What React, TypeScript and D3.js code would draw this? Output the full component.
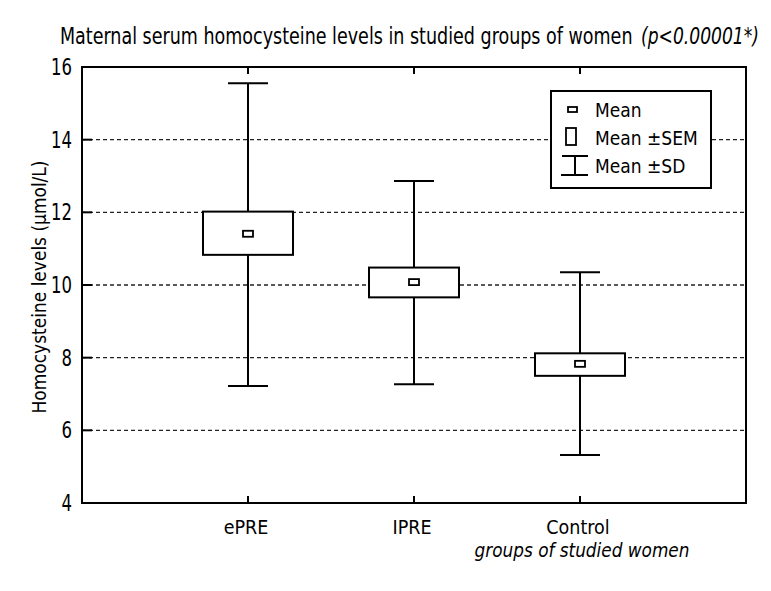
import React, { useEffect, useRef } from 'react';
import * as d3 from 'd3';

const groups = ['ePRE', 'IPRE', 'Control'];
const means = [11.41, 10.08, 7.83];
const semLow = [10.83, 9.66, 7.5];
const semHigh = [12.02, 10.48, 8.12];
const sdLow = [7.22, 7.27, 5.32];
const sdHigh = [15.55, 12.86, 10.35];
const yTicks = [4, 6, 8, 10, 12, 14, 16];
const legendItems = ['Mean', 'Mean \u00b1SEM', 'Mean \u00b1SD'];

const FONT = '"DejaVu Sans Condensed", "Liberation Sans Narrow", "DejaVu Sans", sans-serif';

// put a text at (x, y) and squeeze it horizontally to a given width
function squeezed(parent: any, str: string, x: number, y: number, width: number,
                  size: number, anchor = 'start', rotate = 0, italic = false) {
    const t = parent.append('text')
        .attr('text-anchor', anchor)
        .style('font-family', FONT)
        .style('font-size', size + 'px')
        .style('font-style', italic ? 'italic' : 'normal')
        .text(str);
    const len = (t.node() as SVGTextElement).getComputedTextLength() || width;
    t.attr('transform', `translate(${x},${y}) rotate(${rotate}) scale(${width / len},1)`);
    return t;
}

export default function App() {
    const ref = useRef<SVGSVGElement>(null);

    useEffect(() => {
        const svg = d3.select(ref.current);
        svg.selectAll('*').remove();

        const left = 82, right = 746, top = 67, bottom = 503;

        const x = d3.scaleLinear().domain([0, 4]).range([left, right]);
        const y = d3.scaleLinear().domain([4, 16]).range([bottom, top]);

        const g = svg.append('g');

        // title
        squeezed(g, 'Maternal serum homocysteine levels in studied groups of women', 60, 44, 573, 23);
        squeezed(g, '(p<0.00001*)', 641, 44, 118, 23, 'start', 0, true);

        // grid lines
        g.selectAll('.grid')
            .data(yTicks.filter(t => t > 4 && t < 16))
            .enter()
            .append('line')
            .attr('x1', left)
            .attr('x2', right)
            .attr('y1', d => y(d))
            .attr('y2', d => y(d))
            .attr('stroke', '#222')
            .attr('stroke-width', 1.3)
            .attr('stroke-dasharray', '4,3');

        // inner tick marks on y
        g.selectAll('.ytick')
            .data(yTicks)
            .enter()
            .append('line')
            .attr('x1', left)
            .attr('x2', left + 10)
            .attr('y1', d => y(d))
            .attr('y2', d => y(d))
            .attr('stroke', '#000')
            .attr('stroke-width', 2);

        // y tick labels
        yTicks.forEach(t => {
            squeezed(g, String(t), left - 10, y(t) + 8, String(t).length * 10.5, 23, 'end');
        });

        // x ticks top and bottom
        [1, 2, 3].forEach(i => {
            g.append('line')
                .attr('x1', x(i)).attr('x2', x(i))
                .attr('y1', top).attr('y2', top + 7)
                .attr('stroke', '#000').attr('stroke-width', 2);
            g.append('line')
                .attr('x1', x(i)).attr('x2', x(i))
                .attr('y1', bottom).attr('y2', bottom - 7)
                .attr('stroke', '#000').attr('stroke-width', 2);
        });

        // frame
        g.append('rect')
            .attr('x', left).attr('y', top)
            .attr('width', right - left).attr('height', bottom - top)
            .attr('fill', 'none')
            .attr('stroke', '#000')
            .attr('stroke-width', 2);

        // boxes
        groups.forEach((name, i) => {
            const cx = x(i + 1);
            const box = g.append('g');
            box.append('line')
                .attr('x1', cx).attr('x2', cx)
                .attr('y1', y(sdHigh[i])).attr('y2', y(sdLow[i]))
                .attr('stroke', '#000').attr('stroke-width', 2);
            [sdHigh[i], sdLow[i]].forEach(v => {
                box.append('line')
                    .attr('x1', cx - 20).attr('x2', cx + 20)
                    .attr('y1', y(v)).attr('y2', y(v))
                    .attr('stroke', '#000').attr('stroke-width', 2);
            });
            box.append('rect')
                .attr('x', cx - 45)
                .attr('y', y(semHigh[i]))
                .attr('width', 90)
                .attr('height', y(semLow[i]) - y(semHigh[i]))
                .attr('fill', '#fff')
                .attr('stroke', '#000')
                .attr('stroke-width', 2);
            box.append('rect')
                .attr('x', cx - 5)
                .attr('y', y(means[i]) - 3)
                .attr('width', 10)
                .attr('height', 6)
                .attr('fill', '#fff')
                .attr('stroke', '#000')
                .attr('stroke-width', 1.8);

            g.append('text')
                .attr('x', cx - 2)
                .attr('y', 534)
                .attr('text-anchor', 'middle')
                .style('font-family', FONT)
                .style('font-size', '19.5px')
                .text(name);
        });

        squeezed(g, 'groups of studied women', x(3) + 2, 557, 215, 19, 'middle', 0, true);

        // y label
        squeezed(g, 'Homocysteine levels (\u00b5mol/L)', 46, (top + bottom) / 2 + 2, 253, 20, 'middle', -90);

        // legend
        const lg = g.append('g');
        lg.append('rect')
            .attr('x', 551).attr('y', 91)
            .attr('width', 160).attr('height', 97)
            .attr('fill', '#fff')
            .attr('stroke', '#000')
            .attr('stroke-width', 2);
        legendItems.forEach((t, i) => {
            lg.append('text')
                .attr('x', 595)
                .attr('y', 117 + i * 28)
                .style('font-family', FONT)
                .style('font-size', '19px')
                .text(t);
        });
        lg.append('rect')
            .attr('x', 568).attr('y', 107).attr('width', 9).attr('height', 5)
            .attr('fill', '#fff').attr('stroke', '#000').attr('stroke-width', 1.8);
        lg.append('rect')
            .attr('x', 566).attr('y', 128).attr('width', 10).attr('height', 17)
            .attr('fill', '#fff').attr('stroke', '#000').attr('stroke-width', 1.8);
        lg.append('line')
            .attr('x1', 562).attr('x2', 588).attr('y1', 156).attr('y2', 156)
            .attr('stroke', '#000').attr('stroke-width', 2);
        lg.append('line')
            .attr('x1', 575).attr('x2', 575).attr('y1', 156).attr('y2', 175)
            .attr('stroke', '#000').attr('stroke-width', 2);
        lg.append('line')
            .attr('x1', 561).attr('x2', 588).attr('y1', 175).attr('y2', 175)
            .attr('stroke', '#000').attr('stroke-width', 2);
    }, []);

    return (
        <svg
            ref={ref}
            width={771}
            height={591}
            style={{ position: 'absolute', left: 0, top: 0, background: '#fff' }}
        />
    );
}
